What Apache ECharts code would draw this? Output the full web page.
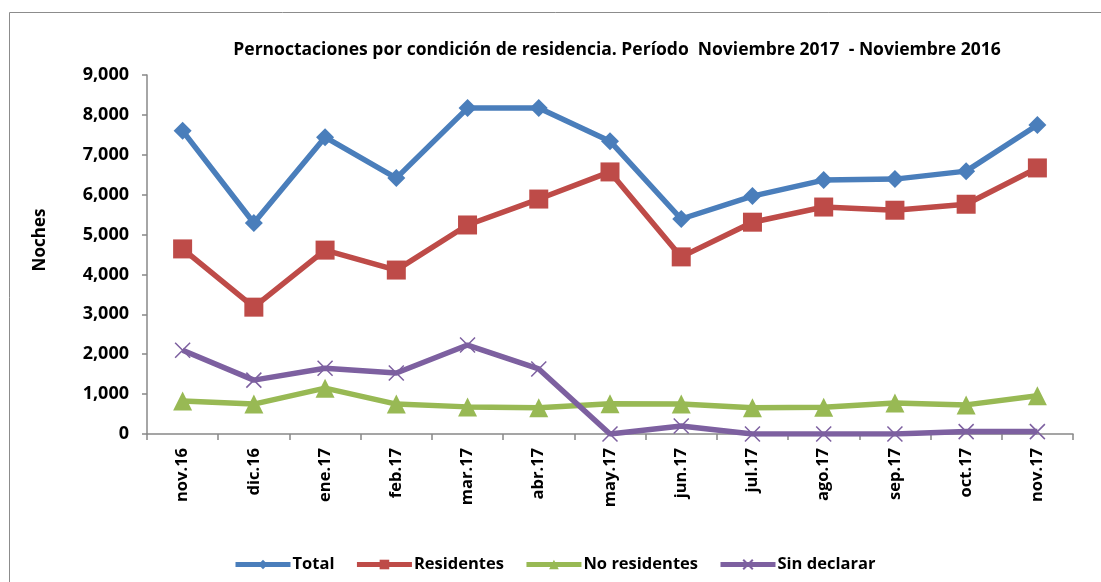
<!DOCTYPE html>
<html>
<head>
<meta charset="utf-8">
<script src="https://cdn.jsdelivr.net/npm/echarts@6/dist/echarts.min.js"></script>
<style>
  html, body { margin: 0; padding: 0; background: #fff; }
  #chart { width: 1101px; height: 582px; }
</style>
</head>
<body>
<div id="chart"></div>
<script>
// categorias (meses)
const categories = ["nov.16", "dic.16", "ene.17", "feb.17", "mar.17", "abr.17", "may.17",
  "jun.17", "jul.17", "ago.17", "sep.17", "oct.17", "nov.17"];

// series
const total = [7600, 5290, 7440, 6415, 8170, 8170, 7340, 5390, 5965, 6365, 6390, 6590, 7745];
const residentes = [4640, 3180, 4610, 4110, 5240, 5890, 6570, 4440, 5310, 5690, 5610, 5760, 6670];
const noResidentes = [830, 750, 1150, 750, 680, 660, 760, 750, 660, 670, 780, 730, 960];
const sinDeclarar = [2100, 1350, 1650, 1530, 2230, 1630, 0, 200, 0, 0, 0, 60, 60];

const FONT = "'Open Sans', 'Liberation Sans', sans-serif";
const crossPath = "path://M0,0 L10,10 M10,0 L0,10";

function serie(name, data, color, symbol, size, extra) {
  return Object.assign({
    name: name,
    type: "line",
    data: data,
    symbol: symbol,
    symbolSize: size,
    lineStyle: { color: color, width: 5.5 },
    itemStyle: { color: color },
    z: 2
  }, extra || {});
}

let myChart = echarts.init(document.getElementById("chart"));
let option = {
  animation: false,
  backgroundColor: "#fff",
  color: ["#4A7EBB", "#BE4B48", "#98B954", "#7D60A0"],
  title: {
    text: "Pernoctaciones por condición de residencia. Período  Noviembre 2017  - Noviembre 2016",
    left: 612,
    textAlign: "center",
    top: 36,
    textStyle: { fontFamily: FONT, fontSize: 17.5, fontWeight: "bold", color: "#000" }
  },
  graphic: [{
    type: "rect",
    shape: { x: 9.5, y: 12.5, width: 1200, height: 700 },
    style: { fill: "none", stroke: "#8c8c8c", lineWidth: 1 },
    silent: true
  }, {
    // titulo del eje Y
    type: "text",
    x: 40,
    y: 240,
    rotation: Math.PI / 2,
    style: {
      text: "Noches",
      fill: "#000",
      font: "bold 17px " + FONT,
      align: "center",
      verticalAlign: "middle"
    },
    silent: true
  }],
  legend: {
    bottom: 4,
    left: 228,
    itemWidth: 55,
    itemHeight: 12,
    itemGap: 20,
    lineStyle: { width: 5 },
    textStyle: { fontFamily: FONT, fontSize: 16.5, fontWeight: "bold", color: "#000", padding: [0, 0, 0, -3] },
    data: ["Total", "Residentes", "No residentes", "Sin declarar"]
  },
  grid: { left: 147, right: 28, top: 75, bottom: 148 },
  xAxis: {
    type: "category",
    data: categories,
    boundaryGap: true,
    axisLine: { lineStyle: { color: "#888", width: 1.5 } },
    axisTick: { show: true, length: 6, alignWithLabel: false, lineStyle: { color: "#888", width: 1.5 } },
    axisLabel: {
      rotate: 90,
      margin: 14,
      interval: 0,
      fontFamily: FONT,
      fontSize: 16.5,
      fontWeight: "bold",
      color: "#000"
    }
  },
  yAxis: {
    type: "value",
    min: 0,
    max: 9000,
    interval: 1000,
    splitLine: { show: false },
    axisLine: { show: true, lineStyle: { color: "#888", width: 1.5 } },
    axisTick: { show: true, length: 5, lineStyle: { color: "#888", width: 1.5 } },
    axisLabel: {
      margin: 18,
      fontFamily: FONT,
      fontSize: 18,
      fontWeight: "bold",
      color: "#000",
      formatter: function (v) { return v.toLocaleString("en-US"); }
    }
  },
  series: [
    serie("Total", total, "#4A7EBB", "diamond", 18),
    serie("Residentes", residentes, "#BE4B48", "rect", 19),
    serie("No residentes", noResidentes, "#98B954", "triangle", 19),
    serie("Sin declarar", sinDeclarar, "#7D60A0", crossPath, 15, {
      itemStyle: { color: "#7D60A0", borderColor: "#7D60A0", borderWidth: 1.5 }
    })
  ]
};

myChart.setOption(option);
</script>
</body>
</html>
